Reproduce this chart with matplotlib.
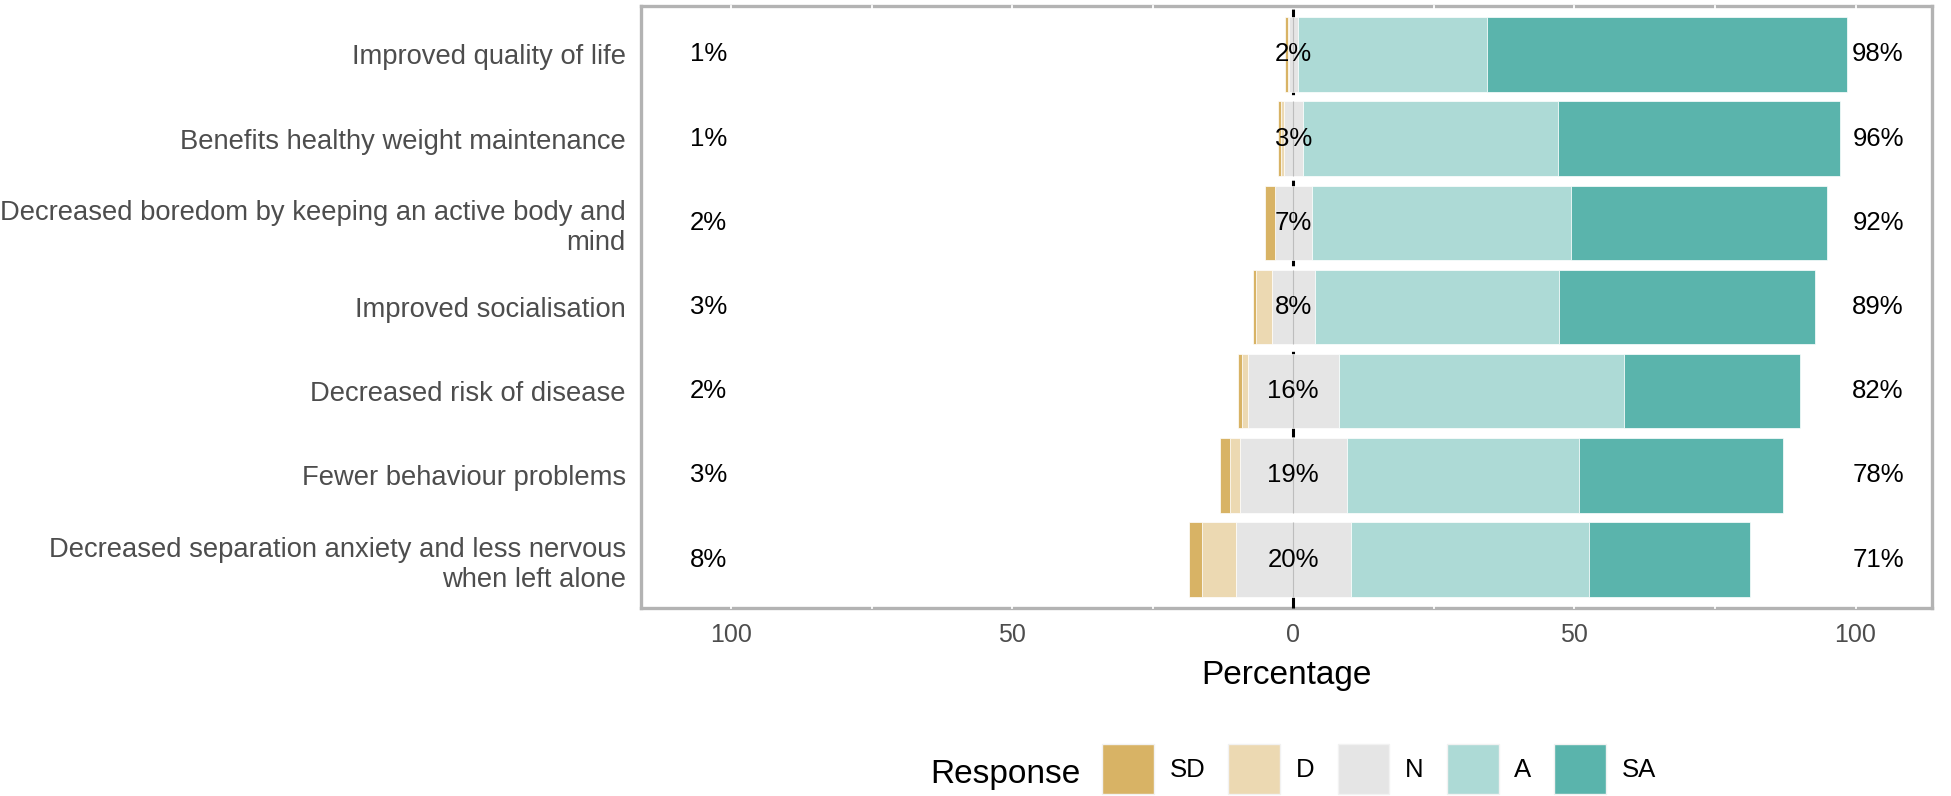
import numpy as np
import matplotlib.pyplot as plt
from matplotlib.patches import Patch

plt.rcParams['font.family'] = ['Liberation Sans', 'DejaVu Sans']

items = [
    "Improved quality of life",
    "Benefits healthy weight maintenance",
    "Decreased boredom by keeping an active body and\nmind",
    "Improved socialisation",
    "Decreased risk of disease",
    "Fewer behaviour problems",
    "Decreased separation anxiety and less nervous\nwhen left alone",
]
levels = ["SD", "D", "N", "A", "SA"]
sd = np.array([0.5, 0.5, 1.7, 0.6, 0.6, 1.7, 2.3])
d = np.array([0.2, 0.6, 0.0, 2.7, 1.1, 1.7, 6.1])
neu = np.array([1.6, 3.3, 6.6, 7.7, 16.1, 19.1, 20.4])
agr = np.array([33.6, 45.5, 46.1, 43.5, 50.7, 41.2, 42.4])
sa = np.array([64.1, 50.1, 45.6, 45.4, 31.4, 36.4, 28.7])

colors = {"SD": "#D8B365", "D": "#ECD9B2", "N": "#E5E5E5", "A": "#ADDAD6", "SA": "#5AB4AC"}
grey_txt = "#4d4d4d"
border = "#b3b3b3"

fig = plt.figure(figsize=(19.51, 7.96), dpi=100)
ax = fig.add_axes([641 / 1951, 1 - 608 / 796, (1932 - 641) / 1951, (608 - 6) / 796])

y = np.arange(len(items))
h = 0.886
half = neu / 2
kw = dict(height=h, edgecolor="white", linewidth=0.5, zorder=4)
ax.barh(y, neu, left=-half, color=colors["N"], **kw)
ax.barh(y, d, left=-half - d, color=colors["D"], **kw)
ax.barh(y, sd, left=-half - d - sd, color=colors["SD"], **kw)
ax.barh(y, agr, left=half, color=colors["A"], **kw)
ax.barh(y, sa, left=half + agr, color=colors["SA"], **kw)

# thin split line inside the neutral block
ax.vlines(np.zeros(len(y)), y - h / 2, y + h / 2, color="#bdbdbd", linewidth=0.8, zorder=5)

# dashed centre line
ax.axvline(0, color="black", linestyle=(0, (4, 4)), linewidth=2.2, zorder=3, clip_on=False)

# white grid lines showing as notches on the border
for gx in [-100, -75, -50, -25, 25, 50, 75, 100]:
    ax.axvline(gx, color="white", linewidth=1.3, zorder=3, clip_on=False)

low = sd + d
high = agr + sa
for i in range(len(items)):
    ax.text(-104, y[i], f"{low[i]:.0f}%", ha="center", va="center", fontsize=18.5, zorder=6)
    ax.text(0, y[i], f"{neu[i]:.0f}%", ha="center", va="center", fontsize=18.5, zorder=6)
    ax.text(104, y[i], f"{high[i]:.0f}%", ha="center", va="center", fontsize=18.5, zorder=6)

ax.set_xlim(-116, 113.6)
ax.set_ylim(len(items) - 0.425, -0.575)
ticks = [-100, -50, 0, 50, 100]
ax.set_xticks(ticks)
ax.set_xticklabels([str(abs(t)) for t in ticks])
ax.set_yticks(y)
ax.set_yticklabels(items)
ax.tick_params(axis="y", length=0, pad=11, labelsize=19.7, labelcolor=grey_txt)
ax.tick_params(axis="x", length=0, pad=11, labelsize=18, labelcolor=grey_txt)
for lab in ax.get_yticklabels():
    lab.set_horizontalalignment("right")
for s in ax.spines.values():
    s.set_color(border)
    s.set_linewidth(2.4)
ax.set_xlabel("Percentage", fontsize=24, labelpad=9)

handles = [Patch(facecolor=colors[k], edgecolor="#f2f2f2", linewidth=1) for k in levels]
fig.text(930 / 1951, 1 - 774 / 796, "Response", fontsize=24, ha="left", va="center")
leg = fig.legend(handles, levels, ncol=5, loc="center left",
                 bbox_to_anchor=(1092 / 1951, 1 - 769 / 796), frameon=False,
                 fontsize=18.5, handlelength=2.02, handleheight=2.62,
                 handletextpad=0.6, columnspacing=0.9, borderaxespad=0)

fig.savefig("out.png", dpi=100)
